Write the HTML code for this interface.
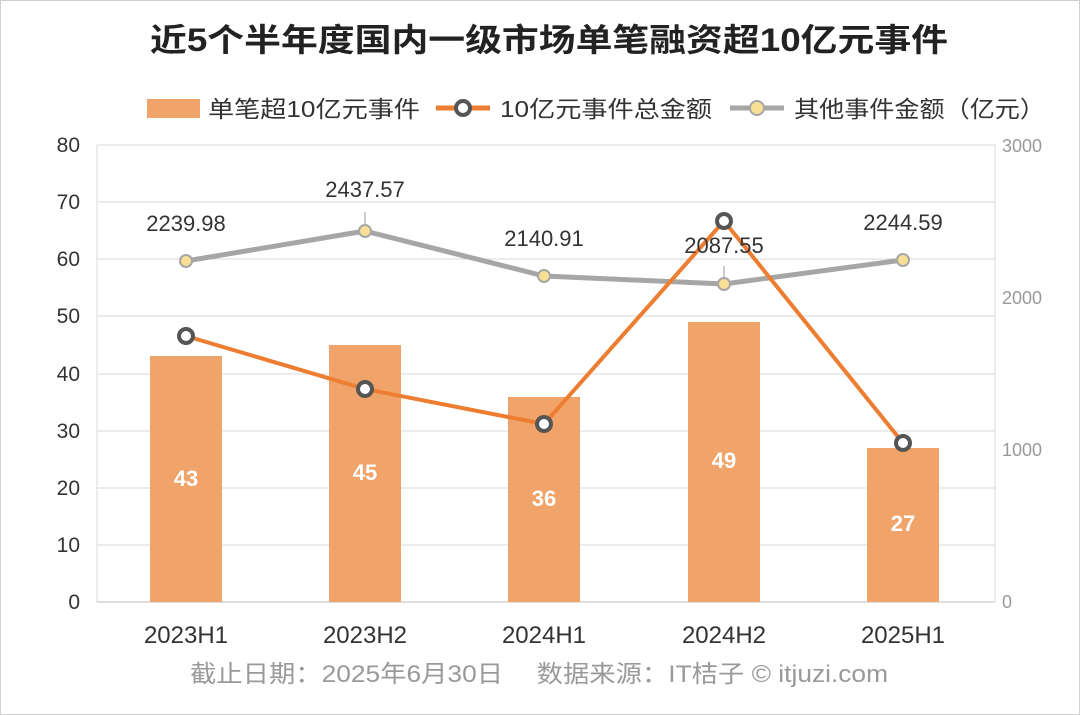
<!DOCTYPE html>
<html><head><meta charset="utf-8"><style>
html,body{margin:0;padding:0;background:#fff;}
svg{display:block;font-family:"Liberation Sans","Noto Sans CJK SC",sans-serif;}
</style></head><body>
<svg width="1080" height="715" viewBox="0 0 1080 715" xmlns="http://www.w3.org/2000/svg">
<rect x="0.5" y="0.5" width="1079" height="714" fill="#fff" stroke="#d0d0d0"/>
<text x="150" y="51" font-size="32" font-weight="bold" fill="#222" textLength="798" lengthAdjust="spacingAndGlyphs">近5个半年度国内一级市场单笔融资超10亿元事件</text>
<!-- legend -->
<rect x="147" y="99" width="53" height="19" fill="#F0A469"/>
<text x="208" y="117" font-size="23" fill="#333" textLength="212" lengthAdjust="spacingAndGlyphs">单笔超10亿元事件</text>
<line x1="436" y1="108" x2="490" y2="108" stroke="#ED7D31" stroke-width="5"/>
<circle cx="463" cy="108" r="7" fill="#fff" stroke="#555" stroke-width="4"/>
<text x="500" y="117" font-size="23" fill="#333" textLength="212" lengthAdjust="spacingAndGlyphs">10亿元事件总金额</text>
<line x1="730" y1="108" x2="784" y2="108" stroke="#A6A6A6" stroke-width="5"/>
<circle cx="757" cy="108" r="7" fill="#F7DF94" stroke="#A6A6A6" stroke-width="2"/>
<text x="794" y="117" font-size="23" fill="#333" textLength="251" lengthAdjust="spacingAndGlyphs">其他事件金额（亿元）</text>
<!-- grid -->
<g stroke="#d9d9d9" stroke-width="1">
<line x1="97" y1="145" x2="995" y2="145"/>
<line x1="97" y1="202" x2="995" y2="202"/>
<line x1="97" y1="259" x2="995" y2="259"/>
<line x1="97" y1="316" x2="995" y2="316"/>
<line x1="97" y1="374" x2="995" y2="374"/>
<line x1="97" y1="431" x2="995" y2="431"/>
<line x1="97" y1="488" x2="995" y2="488"/>
<line x1="97" y1="545" x2="995" y2="545"/>
<line x1="97" y1="145" x2="97" y2="602"/>
<line x1="995" y1="145" x2="995" y2="602"/>
</g>
<line x1="97" y1="602" x2="995" y2="602" stroke="#bfbfbf"/>
<g font-size="21" fill="#333" text-anchor="end">
<text x="80" y="152">80</text><text x="80" y="209">70</text><text x="80" y="266">60</text>
<text x="80" y="323">50</text><text x="80" y="381">40</text><text x="80" y="438">30</text>
<text x="80" y="495">20</text><text x="80" y="552">10</text><text x="80" y="609">0</text>
</g>
<g font-size="18" fill="#999">
<text x="1002" y="152">3000</text><text x="1002" y="304">2000</text>
<text x="1002" y="456">1000</text><text x="1002" y="608">0</text>
</g>
<!-- bars -->
<g fill="#F0A469">
<rect x="150" y="356" width="72" height="246"/>
<rect x="329" y="345" width="72" height="257"/>
<rect x="508" y="397" width="72" height="205"/>
<rect x="688" y="322" width="72" height="280"/>
<rect x="867" y="448" width="72" height="154"/>
</g>
<g font-size="22" font-weight="bold" fill="#fff" text-anchor="middle">
<text x="186" y="486">43</text><text x="365" y="480">45</text><text x="544" y="506">36</text>
<text x="724" y="468">49</text><text x="903" y="531">27</text>
</g>
<!-- gray line -->
<polyline points="186,261 365,231 544,276 724,284 903,260" fill="none" stroke="#A6A6A6" stroke-width="5" stroke-linejoin="round"/>
<line x1="365" y1="212" x2="365" y2="231" stroke="#999"/>
<line x1="724" y1="266" x2="724" y2="284" stroke="#999"/>
<g fill="#F7DF94" stroke="#A6A6A6" stroke-width="2">
<circle cx="186" cy="261" r="6"/><circle cx="365" cy="231" r="6"/><circle cx="544" cy="276" r="6"/>
<circle cx="724" cy="284" r="6"/><circle cx="903" cy="260" r="6"/>
</g>
<!-- orange line -->
<polyline points="186,336 365,389 544,424 724,221 903,443" fill="none" stroke="#ED7D31" stroke-width="4" stroke-linejoin="round"/>
<g fill="#fff" stroke="#555" stroke-width="4">
<circle cx="186" cy="336" r="7"/><circle cx="365" cy="389" r="7"/><circle cx="544" cy="424" r="7"/>
<circle cx="724" cy="221" r="7"/><circle cx="903" cy="443" r="7"/>
</g>
<g font-size="22" fill="#333" text-anchor="middle">
<text x="186" y="231">2239.98</text><text x="365" y="197">2437.57</text><text x="544" y="246">2140.91</text>
<text x="724" y="253">2087.55</text><text x="903" y="230">2244.59</text>
</g>
<g font-size="24" fill="#333" text-anchor="middle">
<text x="186" y="643">2023H1</text><text x="365" y="643">2023H2</text><text x="544" y="643">2024H1</text>
<text x="724" y="643">2024H2</text><text x="903" y="643">2025H1</text>
</g>
<text x="190" y="682" font-size="24" fill="#999" textLength="698" lengthAdjust="spacingAndGlyphs">截止日期：2025年6月30日　 数据来源：IT桔子 © itjuzi.com</text>
</svg>
</body></html>
